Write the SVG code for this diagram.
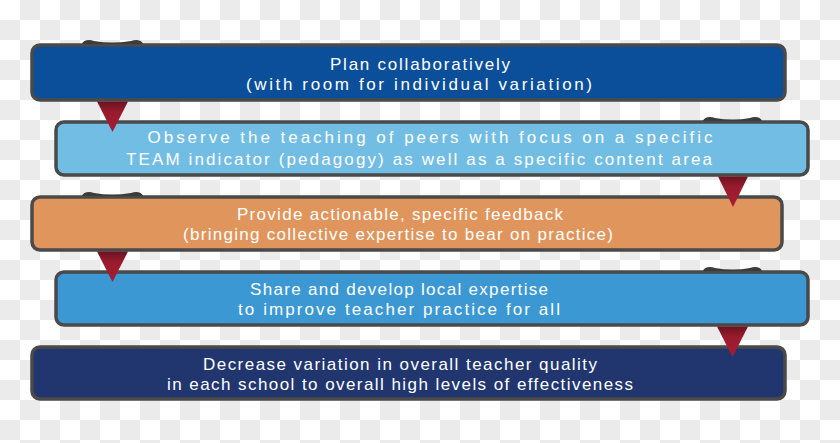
<svg xmlns="http://www.w3.org/2000/svg" width="840" height="443" viewBox="0 0 840 443">
<style>
.box{stroke:#4a4a4a;stroke-width:3.5}
.t{font-family:"Liberation Sans",Arial,sans-serif;font-size:17px;fill:#ffffff;text-anchor:middle}
.ear{fill:#3c3c3c}
.tri{fill:url(#tg)}
</style>
<defs>
<pattern id="chk" width="40" height="40" patternUnits="userSpaceOnUse">
<rect width="40" height="40" fill="#ffffff"/>
<rect x="20" y="0" width="20" height="20" fill="#ebebeb"/>
<rect x="0" y="20" width="20" height="20" fill="#ebebeb"/>
</pattern>
<linearGradient id="tg" x1="0" y1="0" x2="0" y2="1">
<stop offset="0" stop-color="#6a1420"/>
<stop offset="0.35" stop-color="#9a1b2e"/>
<stop offset="1" stop-color="#a51d32"/>
</linearGradient>
</defs>
<rect width="840" height="443" fill="url(#chk)"/>
<g id="node1">
<rect class="box" x="32" y="45" width="753" height="55" rx="8" fill="#0b4f9a"/>
<text class="t" x="420" y="70" textLength="180">Plan collaboratively</text>
<text class="t" x="419" y="90" textLength="346">(with room for individual variation)</text>
</g>
<g id="node2">
<rect class="box" x="56" y="122" width="752" height="53" rx="8" fill="#72bde3"/>
<text class="t" x="430" y="143" textLength="565">Observe the teaching of peers with focus on a specific</text>
<text class="t" x="419" y="165" textLength="586">TEAM indicator (pedagogy) as well as a specific content area</text>
</g>
<g id="node3">
<rect class="box" x="32" y="197" width="750" height="53" rx="8" fill="#e0955c"/>
<text class="t" x="400" y="220" textLength="326">Provide actionable, specific feedback</text>
<text class="t" x="398" y="240" textLength="430">(bringing collective expertise to bear on practice)</text>
</g>
<g id="node4">
<rect class="box" x="56" y="272" width="752" height="53" rx="8" fill="#3b98d3"/>
<text class="t" x="399" y="295" textLength="298">Share and develop local expertise</text>
<text class="t" x="399" y="315" textLength="322">to improve teacher practice for all</text>
</g>
<g id="node5">
<rect class="box" x="32" y="347" width="753" height="52" rx="8" fill="#21366f"/>
<text class="t" x="400" y="370" textLength="394">Decrease variation in overall teacher quality</text>
<text class="t" x="400" y="390" textLength="466">in each school to overall high levels of effectiveness</text>
</g>
<g id="connectors">
<path class="ear" d="M82,44 C83,40 89,39 94,41 Q112,44 131,41 C136,39 142,40 143,44 Z"/>
<path class="ear" d="M703,121 C704,117 710,116 715,118 Q733,121 750,118 C755,116 761,117 762,121 Z"/>
<path class="ear" d="M82,196 C83,192 89,191 94,193 Q112,196 131,193 C136,191 142,192 143,196 Z"/>
<path class="ear" d="M703,271 C704,267 710,266 715,268 Q733,271 750,268 C755,266 761,267 762,271 Z"/>
<polygon class="tri" points="97,101.5 128,101.5 112.5,132"/>
<polygon class="tri" points="718,176.5 748,176.5 733,207"/>
<polygon class="tri" points="97,251.5 128,251.5 112.5,282"/>
<polygon class="tri" points="717,326.5 748,326.5 732.5,357"/>
</g>
</svg>
